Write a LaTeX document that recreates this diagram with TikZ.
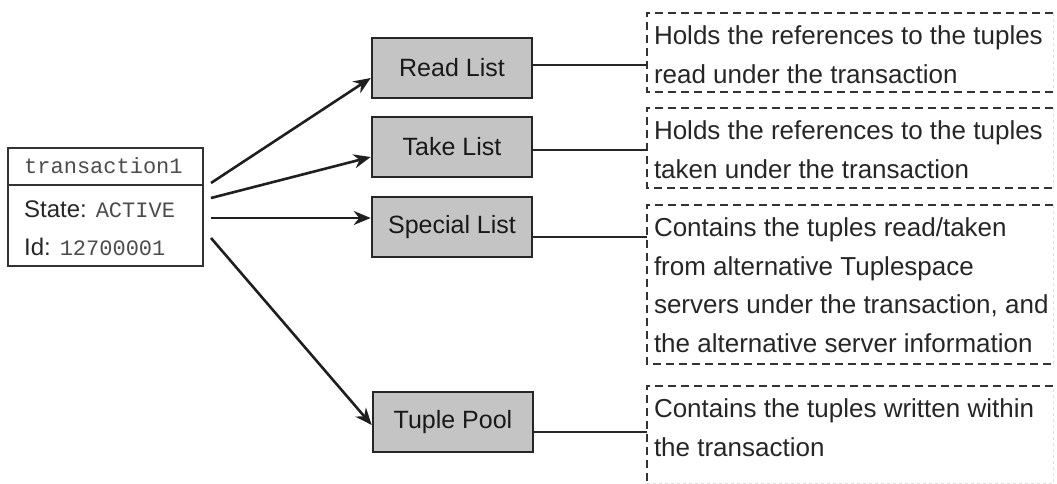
\documentclass[tikz,border=0pt]{standalone}
\usepackage{fontspec}
\setmainfont{Liberation Sans}
\setmonofont{Liberation Mono}
\usetikzlibrary{arrows.meta}

\tikzset{
  listbox/.style={draw=black!85, line width=2.6pt, fill=black!23, minimum width=160pt,
    minimum height=60pt, inner sep=0pt, font=\fontsize{25}{30}\selectfont, text=black!90},
  descbox/.style={draw=none, inner sep=0pt},
  desctext/.style={anchor=north west, inner sep=0pt, align=left,
    font=\fontsize{26}{38.5}\selectfont, text=black!85},
  dashedge/.style={draw=black!80, line width=2.4pt, dash pattern=on 8pt off 5pt},
  faintedge/.style={draw=black!13, line width=1pt, dash pattern=on 3pt off 3pt},
  arrowline/.style={draw=black!88, line width=2.6pt, -{Stealth[length=17pt,width=14pt]}},
  link/.style={draw=black!85, line width=2.2pt},
  field/.style={anchor=west, inner sep=0pt, font=\fontsize{24}{28}\selectfont, text=black!85},
}

\begin{document}
\begin{tikzpicture}[x=1pt, y=-1pt]
\useasboundingbox (0,0) rectangle (1057,484);

% transaction object
\node[draw=black!80, line width=2pt, minimum width=195pt, minimum height=118pt, inner sep=0pt]
  (tx) at (105.5,207) {};
\draw[line width=2pt, draw=black!80] (8,185) -- (203,185);
\node[field, font=\fontsize{22}{26}\ttfamily, text=black!70] (txname) at (24,166) {transaction1};
\node[field] (txstate) at (24,209) {State: {\fontsize{22}{26}\ttfamily\color{black!70}ACTIVE}};
\node[field] (txid) at (24,247) {Id: {\fontsize{22}{26}\ttfamily\color{black!70}12700001}};

% lists
\node[listbox] (read)    at (452,68)  {Read List};
\node[listbox] (take)    at (452,147) {Take List};
\node[listbox] (special) at (452,227) {Special List};
\node[listbox] (pool)    at (453,422) {Tuple Pool};

% description boxes
\node[descbox, minimum width=406pt, minimum height=79pt]  (d1) at (850,52.5)  {};
\node[descbox, minimum width=406pt, minimum height=80pt]  (d2) at (850,148)   {};
\node[descbox, minimum width=406pt, minimum height=159pt] (d3) at (850,284.5) {};
\node[descbox, minimum width=406pt, minimum height=97pt]  (d4) at (850,434.5) {};

\foreach \d in {d1,d2,d3} {
  \draw[dashedge] (\d.north east) -- (\d.north west) -- (\d.south west) -- (\d.south east);
  \draw[faintedge] (\d.north east) -- (\d.south east);
}
\draw[dashedge] (d4.north east) -- (d4.north west) -- (d4.south west);
\draw[faintedge] (d4.south west) -- (d4.south east) -- (d4.north east);

\node[desctext] (t1) at ([xshift=7pt,yshift=-13pt]d1.north west)
  {Holds the references to the tuples\\read under the transaction};
\node[desctext] (t2) at ([xshift=7pt,yshift=-13pt]d2.north west)
  {Holds the references to the tuples\\taken under the transaction};
\node[desctext] (t3) at ([xshift=7pt,yshift=-13pt]d3.north west)
  {Contains the tuples read/taken\\from alternative Tuplespace\\servers under the transaction, and\\the alternative server information};
\node[desctext] (t4) at ([xshift=7pt,yshift=-13pt]d4.north west)
  {Contains the tuples written within\\the transaction};

% links from lists to descriptions
\draw[link] ([yshift=3pt]read.east)     -- ([yshift=3pt]read.east -| d1.west);
\draw[link] ([yshift=-3pt]take.east)    -- ([yshift=-3pt]take.east -| d2.west);
\draw[link] ([yshift=-10pt]special.east) -- ([yshift=-10pt]special.east -| d3.west);
\draw[link] ([yshift=-10pt]pool.east)    -- ([yshift=-10pt]pool.east -| d4.west);

% arrows from the transaction
\draw[arrowline] ([xshift=7pt,yshift=24pt]tx.east)  -- ([yshift=-10pt]read.west);
\draw[arrowline] ([xshift=7pt,yshift=9pt]tx.east)   -- ([yshift=-10pt]take.west);
\draw[arrowline] ([xshift=7pt,yshift=-11pt]tx.east) -- ([yshift=9pt]special.west);
\draw[arrowline] ([xshift=7pt,yshift=-31pt]tx.east) -- ([yshift=-3pt]pool.west);
\end{tikzpicture}
\end{document}
